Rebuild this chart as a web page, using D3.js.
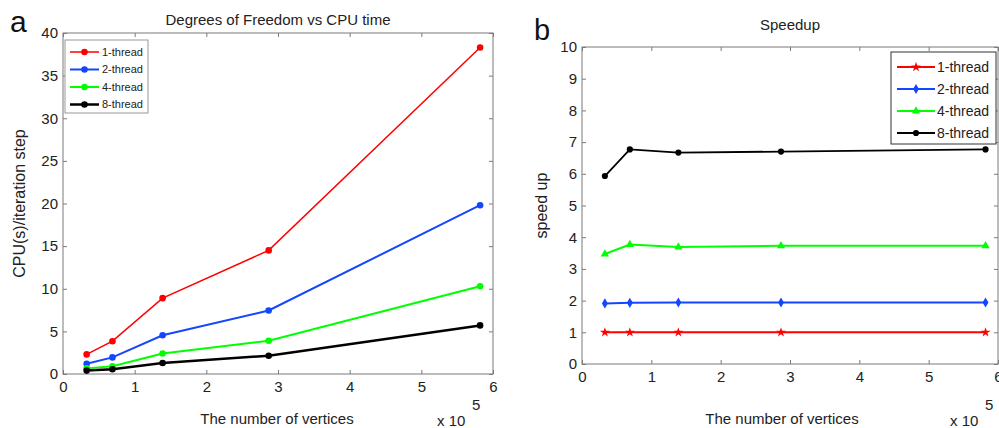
<!DOCTYPE html>
<html>
<head>
<meta charset="utf-8">
<script src="https://cdn.jsdelivr.net/npm/d3@7"></script>
<style>
  body { margin: 0; background: #fff; }
  svg { display: block; font-family: "Liberation Sans", Arial, sans-serif; }
</style>
</head>
<body>
<svg id="fig" width="999" height="428"></svg>
<script>
// ── Data ──────────────────────────────────────────────────────────────────────
const vertices = [0.33, 0.69, 1.39, 2.87, 5.82];          // ×10^5
const seriesNames = ['1-thread', '2-thread', '4-thread', '8-thread'];
const seriesColors = ['#ff0000', '#1446ff', '#00ff00', '#000000'];

const cpu1 = [2.3, 3.85, 8.9, 14.5, 38.3];
const cpu2 = [1.2, 1.95, 4.55, 7.45, 19.8];
const cpu4 = [0.66, 0.9, 2.4, 3.9, 10.3];
const cpu8 = [0.4, 0.55, 1.3, 2.15, 5.7];

const sp1 = [1.0, 1.0, 1.0, 1.0, 1.0];
const sp2 = [1.91, 1.93, 1.94, 1.94, 1.94];
const sp4 = [3.47, 3.77, 3.69, 3.73, 3.73];
const sp8 = [5.93, 6.77, 6.67, 6.7, 6.77];

const xTicks = [0, 1, 2, 3, 4, 5, 6];
const yTicksA = [0, 5, 10, 15, 20, 25, 30, 35, 40];
const yTicksB = [0, 1, 2, 3, 4, 5, 6, 7, 8, 9, 10];

const svg = d3.select('#fig');
const AXIS = '#7a7a7a';
const TXT = '#222';

// ── Panel helper ──────────────────────────────────────────────────────────────
function panel(cfg) {
  const x = d3.scaleLinear().domain([0, 6]).range([cfg.left, cfg.right]);
  const y = d3.scaleLinear().domain(cfg.yDomain).range([cfg.bottom, cfg.top]);
  const g = svg.append('g');

  // box + inward ticks on all sides
  g.append('rect')
    .attr('x', cfg.left).attr('y', cfg.top)
    .attr('width', cfg.right - cfg.left).attr('height', cfg.bottom - cfg.top)
    .attr('fill', 'none').attr('stroke', AXIS).attr('stroke-width', 1);

  const tk = (axis) => axis.tickSizeInner(-4).tickSizeOuter(0).tickPadding(7);
  const styleAxis = (sel) => {
    sel.select('.domain').remove();
    sel.selectAll('.tick line').attr('stroke', AXIS);
    sel.selectAll('text').attr('font-size', 15).attr('fill', TXT);
  };
  g.append('g').attr('transform', `translate(0,${cfg.bottom})`)
    .call(tk(d3.axisBottom(x).tickValues(xTicks).tickFormat(d3.format('d'))))
    .call(styleAxis);
  g.append('g').attr('transform', `translate(0,${cfg.top})`)
    .call(tk(d3.axisTop(x).tickValues(xTicks).tickFormat('')))
    .call(styleAxis);
  g.append('g').attr('transform', `translate(${cfg.left},0)`)
    .call(tk(d3.axisLeft(y).tickValues(cfg.yTicks).tickFormat(d3.format('d'))).tickPadding(5))
    .call(styleAxis);
  g.append('g').attr('transform', `translate(${cfg.right},0)`)
    .call(tk(d3.axisRight(y).tickValues(cfg.yTicks).tickFormat('')))
    .call(styleAxis);

  const sym = (k) => d3.symbol().type(cfg.markers[k]).size(cfg.markerSize)();

  // series
  const line = d3.line().x((d, i) => x(vertices[i])).y((d) => y(d));
  cfg.series.forEach((vals, k) => {
    g.append('path').datum(vals)
      .attr('fill', 'none').attr('stroke', seriesColors[k])
      .attr('stroke-width', cfg.widths[k]).attr('d', line);
    g.selectAll(null).data(vals).join('path')
      .attr('transform', (d, i) => `translate(${x(vertices[i])},${y(d)})`)
      .attr('d', sym(k)).attr('fill', seriesColors[k]);
  });

  // titles and labels
  g.append('text').attr('x', (cfg.left + cfg.right) / 2).attr('y', cfg.titleY)
    .attr('text-anchor', 'middle').attr('font-size', 15).attr('fill', TXT)
    .text(cfg.title);
  g.append('text').attr('x', cfg.letterX).attr('y', cfg.letterY)
    .attr('font-size', cfg.letterSize).attr('fill', '#111').text(cfg.letter);
  g.append('text')
    .attr('transform', `translate(${cfg.yLabelX},${(cfg.top + cfg.bottom) / 2}) rotate(-90)`)
    .attr('text-anchor', 'middle').attr('font-size', 16).attr('fill', TXT)
    .text(cfg.yLabel);
  g.append('text').attr('x', cfg.xLabelX).attr('y', 424)
    .attr('text-anchor', 'middle').attr('font-size', 15).attr('fill', TXT)
    .text('The number of vertices');
  g.append('text').attr('x', cfg.expX).attr('y', 426)
    .attr('font-size', 15).attr('fill', TXT).text('x 10');
  g.append('text').attr('x', cfg.expX + 35).attr('y', 410)
    .attr('font-size', 15).attr('fill', TXT).text('5');

  // legend
  const L = cfg.legend;
  g.append('rect').attr('x', L.x).attr('y', L.y).attr('width', L.w).attr('height', L.h)
    .attr('fill', '#fff').attr('stroke', L.stroke).attr('stroke-width', 1);
  seriesNames.forEach((name, k) => {
    const yy = L.y + L.first + k * L.step;
    g.append('line').attr('x1', L.x + L.lx0).attr('x2', L.x + L.lx1)
      .attr('y1', yy).attr('y2', yy)
      .attr('stroke', seriesColors[k]).attr('stroke-width', cfg.widths[k]);
    g.append('path')
      .attr('transform', `translate(${L.x + (L.lx0 + L.lx1) / 2},${yy})`)
      .attr('d', sym(k)).attr('fill', seriesColors[k]);
    g.append('text').attr('x', L.x + L.tx).attr('y', yy).attr('dy', '0.35em')
      .attr('font-size', L.fs).attr('fill', TXT).text(name);
  });
}

// ── Panel a ───────────────────────────────────────────────────────────────────
panel({
  left: 63, right: 493, top: 33, bottom: 374,
  yDomain: [0, 40], yTicks: yTicksA,
  series: [cpu1, cpu2, cpu4, cpu8], widths: [1.5, 2, 2, 2.5],
  markers: [d3.symbolCircle, d3.symbolCircle, d3.symbolCircle, d3.symbolCircle], markerSize: 34,
  title: 'Degrees of Freedom vs CPU time', titleY: 25,
  letter: 'a', letterX: 10, letterY: 32, letterSize: 30,
  yLabel: 'CPU(s)/iteration step', yLabelX: 25,
  xLabelX: 277, expX: 437,
  legend: { x: 65, y: 40, w: 83, h: 73, first: 12, step: 17.5, lx0: 5, lx1: 34, tx: 37, fs: 11, stroke: '#999' },
});

// ── Panel b ───────────────────────────────────────────────────────────────────
panel({
  left: 582, right: 998, top: 47, bottom: 364,
  yDomain: [0, 10], yTicks: yTicksB,
  series: [sp1, sp2, sp4, sp8], widths: [2, 2, 2, 1.8],
  markers: [d3.symbolStar, d3.symbolDiamond, d3.symbolTriangle, d3.symbolCircle], markerSize: 30,
  title: 'Speedup', titleY: 30,
  letter: 'b', letterX: 534, letterY: 40, letterSize: 29,
  yLabel: 'speed up', yLabelX: 547,
  xLabelX: 782, expX: 950,
  legend: { x: 891, y: 52, w: 105, h: 92, first: 15, step: 22, lx0: 6, lx1: 44, tx: 46, fs: 14, stroke: '#333' },
});
</script>
</body>
</html>
